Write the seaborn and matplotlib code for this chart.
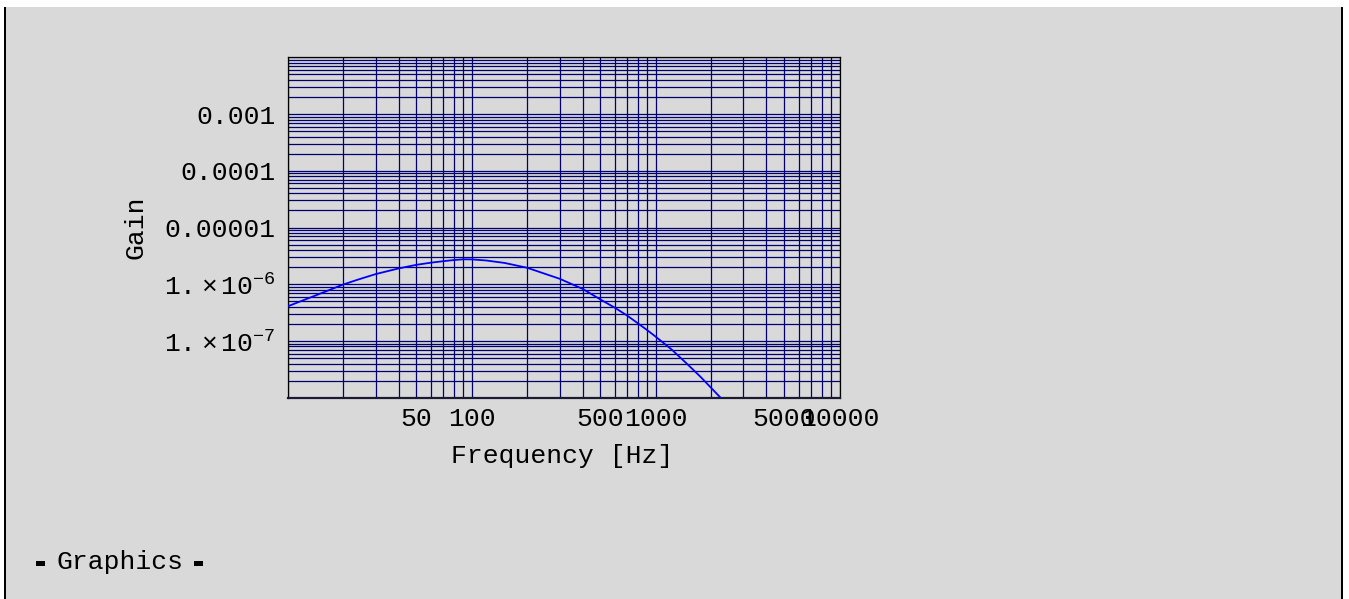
import numpy as np
import pandas as pd
import matplotlib
matplotlib.use("Agg")
import matplotlib.pyplot as plt
import seaborn as sns
from matplotlib.patches import Rectangle
from matplotlib.ticker import FixedLocator, FixedFormatter, LogLocator, NullFormatter

# Frequency response samples (Hz, gain)
freq_hz = [10, 13.7, 20, 23.7, 30, 40, 50, 60, 70, 80, 90, 100, 120, 136, 150,
           200, 300, 400, 500, 600, 700, 800, 900, 1000, 1220, 1500, 1750,
           2000, 2254, 2500]
gain = [4.1e-7, 6.1e-7, 9.9e-7, 1.19e-6, 1.51e-6, 1.9e-6, 2.2e-6, 2.4e-6,
        2.55e-6, 2.67e-6, 2.75e-6, 2.74e-6, 2.62e-6, 2.48e-6, 2.38e-6,
        1.95e-6, 1.25e-6, 8.3e-7, 5.4e-7, 3.85e-7, 2.8e-7, 2.05e-7, 1.55e-7,
        1.19e-7, 7.1e-8, 3.8e-8, 2.35e-8, 1.5e-8, 1.0e-8, 7.0e-9]

x_ticks = [50, 100, 500, 1000, 5000, 10000]
x_tick_labels = ["50", "100", "500", "1000", "5000", "10000"]
y_ticks = [1e-3, 1e-4, 1e-5, 1e-6, 1e-7]
y_tick_labels = ["0.001", "0.0001", "0.00001",
                 r"$\mathregular{1.\times10^{-6}}$", r"$\mathregular{1.\times10^{-7}}$"]

df = pd.DataFrame({"Frequency": freq_hz, "Gain": gain})

sns.set_style("white")
plt.rcParams["font.family"] = ["Liberation Mono", "DejaVu Sans"]
plt.rcParams["mathtext.fontset"] = "custom"
plt.rcParams["mathtext.rm"] = "Liberation Mono"
plt.rcParams["mathtext.it"] = "Liberation Mono"
plt.rcParams["mathtext.bf"] = "Liberation Mono"

W, H = 1349, 599
FS = 19
PANEL = "#d9d9d9"
GRID = "#00006e"

fig = plt.figure(figsize=(W / 100, H / 100), dpi=100, facecolor="white")

# notebook cell background and its bracket lines
fig.patches.append(Rectangle((6 / W, 0), (1341 - 6) / W, (H - 7) / H,
                             transform=fig.transFigure, facecolor=PANEL,
                             edgecolor="none", zorder=-10))
for x0 in (4, 1341):
    fig.patches.append(Rectangle((x0 / W, 0), 2 / W, (H - 7) / H,
                                 transform=fig.transFigure, facecolor="black",
                                 edgecolor="none", zorder=-9))

left, right, top, bottom = 288, 839.5, 57.3, 397.7
ax = fig.add_axes([left / W, 1 - bottom / H, (right - left) / W, (bottom - top) / H])
ax.set_zorder(5)
ax.set_facecolor(PANEL)

sns.lineplot(data=df, x="Frequency", y="Gain", ax=ax, color="#0000ff",
             linewidth=1.3, zorder=5)

ax.set_xscale("log")
ax.set_yscale("log")
ax.set_xlim(10, 10000)
ax.set_ylim(1e-8, 1e-2)

ax.xaxis.set_major_locator(FixedLocator(x_ticks))
ax.xaxis.set_major_formatter(FixedFormatter(x_tick_labels))
ax.yaxis.set_major_locator(FixedLocator(y_ticks))
ax.yaxis.set_major_formatter(FixedFormatter(y_tick_labels))
for axis in (ax.xaxis, ax.yaxis):
    axis.set_minor_locator(LogLocator(base=10, subs=np.arange(1, 10), numticks=100))
    axis.set_minor_formatter(NullFormatter())

ax.grid(which="both", color=GRID, linewidth=0.9, zorder=1)
ax.set_axisbelow(True)

ax.tick_params(axis="both", which="major", direction="in", length=4, width=0.8,
               color="black", labelsize=FS, labelcolor="black")
ax.tick_params(axis="both", which="minor", direction="in", length=2.5, width=0.8,
               color="black")
ax.tick_params(axis="x", which="major", pad=7)
ax.tick_params(axis="y", which="major", pad=9)

for side in ("left", "top", "right"):
    ax.spines[side].set_color("black")
    ax.spines[side].set_linewidth(0.9)
ax.spines["bottom"].set_color("#1a1a33")
ax.spines["bottom"].set_linewidth(1.6)

ax.set_xlabel("Frequency [Hz]", fontsize=FS, color="black")
ax.set_ylabel("Gain", fontsize=FS, color="black")
ax.xaxis.set_label_coords((562 - left) / (right - left), (bottom - 456) / (bottom - top))
ax.xaxis.label.set_va("center")
ax.yaxis.set_label_coords((136 - left) / (right - left), 0.5)
ax.yaxis.label.set_va("center")

# output cell tag
fig.text(56 / W, 1 - 569.3 / H, "Graphics", fontsize=FS, color="black",
         ha="left", va="baseline")
for x0 in (36, 194):
    fig.patches.append(Rectangle((x0 / W, 1 - 566 / H), 9 / W, 5 / H,
                                 transform=fig.transFigure, facecolor="black",
                                 edgecolor="none", zorder=2))

fig.savefig("out.png", dpi=100, facecolor="white")
